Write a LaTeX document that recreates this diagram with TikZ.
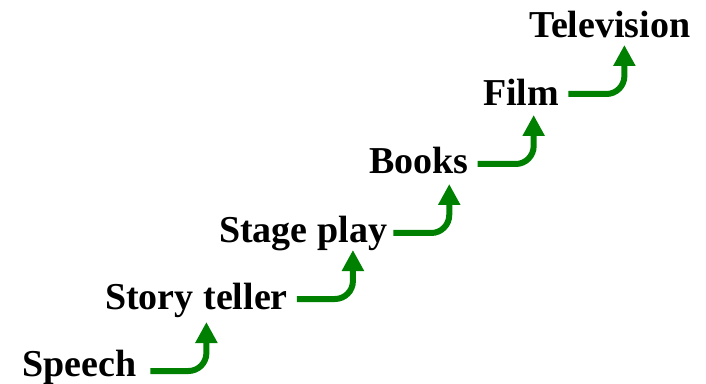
\documentclass[tikz,border=0pt]{standalone}
\usepackage{fontspec}
\setmainfont{Liberation Serif}
\usepackage{xcolor}
\usepackage{tikz}
\usetikzlibrary{arrows.meta}
\definecolor{StepGreen}{HTML}{008000}
\definecolor{LabelBlack}{HTML}{000000}

\begin{document}
\begin{tikzpicture}[x=1pt, y=1pt,
    stage/.style={anchor=base west, inner sep=0pt, text=LabelBlack, font=\fontsize{38}{41}\selectfont\bfseries},
    rise/.style={draw=StepGreen, line width=6pt, -{Triangle[width=21pt,length=21pt]}}]
            \useasboundingbox (0,0) rectangle (706,383);

            % Labels, one step up each
            \node[stage] (speech) at (22,7) {Speech};
            \node[stage] (teller) at (105,74) {Story teller};
            \node[stage] (play) at (219,140) {Stage play};
            \node[stage] (books) at (369,209) {Books};
            \node[stage] (film) at (483,277) {Film};
            \node[stage] (tv) at (529,345) {Television};

            % Rising arrows
            \draw[rise] ([xshift=14pt,yshift=5pt]speech.base east) -- ++(38,0) to[out=0,in=-90] ++(18,18) -- ++(0,31);
            \draw[rise] ([xshift=9pt,yshift=10pt]teller.base east) -- ++(38,0) to[out=0,in=-90] ++(18,18) -- ++(0,31);
            \draw[rise] ([xshift=6pt,yshift=10pt]play.base east) -- ++(38,0) to[out=0,in=-90] ++(18,18) -- ++(0,31);
            \draw[rise] ([xshift=9pt,yshift=10pt]books.base east) -- ++(38,0) to[out=0,in=-90] ++(18,18) -- ++(0,31);
            \draw[rise] ([xshift=9pt,yshift=12pt]film.base east) -- ++(38,0) to[out=0,in=-90] ++(18,18) -- ++(0,31);
        \end{tikzpicture}
\end{document}
